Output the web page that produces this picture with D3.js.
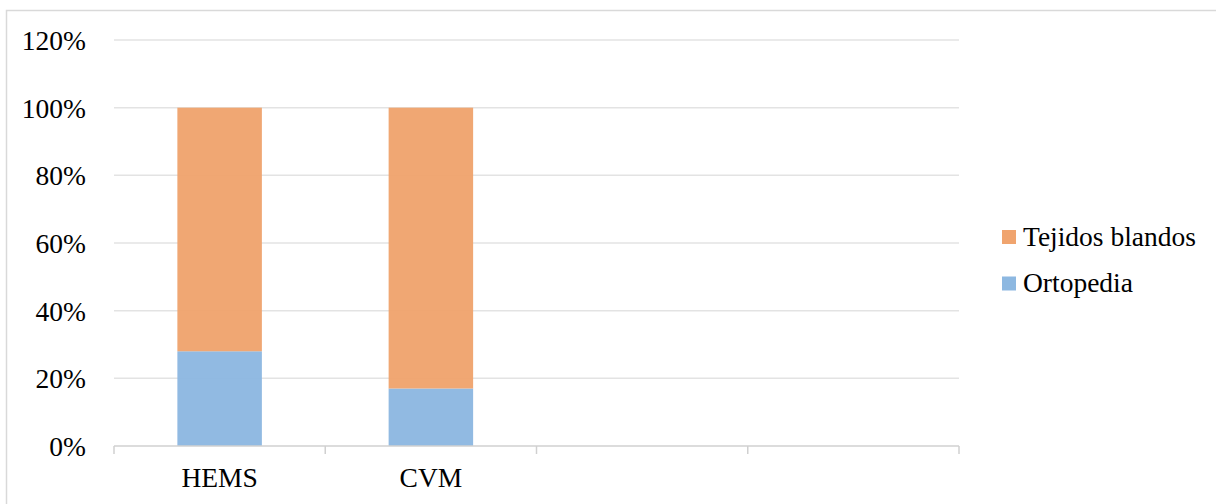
<!DOCTYPE html>
<html>
<head>
<meta charset="utf-8">
<script src="https://cdn.jsdelivr.net/npm/d3@7"></script>
<style>
  html, body { margin: 0; padding: 0; background: #fff; }
  svg { display: block; }
</style>
</head>
<body>
<div id="chart"></div>
<script>
// Categories along the x axis (the last two slots are left empty)
const categories = ["HEMS", "CVM", "", " "];
// Share of each service per category (%)
const ortopedia = [28, 17, null, null];
const tejidosBlandos = [72, 83, null, null];
const seriesNames = ["Ortopedia", "Tejidos blandos"];
const seriesColors = ["#8db8e1", "#f0a46e"];
const yTicks = [0, 20, 40, 60, 80, 100, 120];

const W = 1216, H = 504;
const plot = { left: 114, right: 959, top: 40, bottom: 446 };
const FONT = "'Liberation Serif', 'Times New Roman', serif";
const FONT_SIZE = "27.5px";

const svg = d3.select("#chart").append("svg")
  .attr("width", W).attr("height", H);

// chart frame
svg.append("rect")
  .attr("x", 6.5).attr("y", 10.5)
  .attr("width", 1215).attr("height", 500)
  .attr("fill", "none").attr("stroke", "#d9d9d9").attr("stroke-width", 1.5);

const x = d3.scaleBand()
  .domain(categories)
  .range([plot.left, plot.right])
  .paddingInner(0.6).paddingOuter(0.3);

const y = d3.scaleLinear().domain([0, 120]).range([plot.bottom, plot.top]);

// horizontal gridlines
svg.append("g")
  .selectAll("line")
  .data(yTicks.filter(d => d > 0))
  .join("line")
  .attr("x1", plot.left).attr("x2", plot.right)
  .attr("y1", d => y(d)).attr("y2", d => y(d))
  .attr("stroke", "#e3e3e3").attr("stroke-width", 1.5);

// y axis labels
const yAxis = d3.axisLeft(y).tickValues(yTicks).tickFormat(d => d + "%").tickSize(0).tickPadding(28);
const gy = svg.append("g").attr("transform", `translate(${plot.left},0)`).call(yAxis);
gy.attr("font-family", null);
gy.select(".domain").remove();
gy.selectAll("text")
  .style("font-family", FONT).style("font-size", FONT_SIZE).style("fill", "#000")
  .attr("dy", "0.34em");

// stacked bars
const rows = categories.map((c, i) => ({ cat: c, Ortopedia: ortopedia[i] || 0, "Tejidos blandos": tejidosBlandos[i] || 0 }));
const stack = d3.stack().keys(seriesNames)(rows);

svg.append("g")
  .selectAll("g")
  .data(stack)
  .join("g")
  .attr("fill", (d, i) => seriesColors[i])
  .attr("fill-opacity", 0.97)
  .selectAll("rect")
  .data(d => d.filter(p => p[1] > p[0]))
  .join("rect")
  .attr("x", d => x(d.data.cat))
  .attr("width", x.bandwidth())
  .attr("y", d => y(d[1]))
  .attr("height", d => y(d[0]) - y(d[1]));

// x axis with ticks at the category boundaries
const slot = (plot.right - plot.left) / categories.length;
const boundaries = d3.range(categories.length + 1).map(i => plot.left + i * slot);
const gx = svg.append("g");
gx.append("line")
  .attr("x1", plot.left).attr("x2", plot.right)
  .attr("y1", plot.bottom).attr("y2", plot.bottom)
  .attr("stroke", "#d0d0d0").attr("stroke-width", 1.5);
gx.selectAll("line.tick")
  .data(boundaries)
  .join("line")
  .attr("class", "tick")
  .attr("x1", d => d).attr("x2", d => d)
  .attr("y1", plot.bottom).attr("y2", plot.bottom + 8)
  .attr("stroke", "#d0d0d0").attr("stroke-width", 1.5);
gx.selectAll("text")
  .data(categories.filter(c => c.trim() !== ""))
  .join("text")
  .attr("x", d => x(d) + x.bandwidth() / 2)
  .attr("y", 487)
  .attr("text-anchor", "middle")
  .style("font-family", FONT).style("font-size", FONT_SIZE).style("fill", "#000")
  .text(d => d);

// legend (series listed top to bottom in reverse stacking order)
const legendItems = seriesNames.map((n, i) => ({ name: n, color: seriesColors[i] })).reverse();
const lg = svg.append("g").attr("transform", "translate(1002,230)");
const li = lg.selectAll("g").data(legendItems).join("g")
  .attr("transform", (d, i) => `translate(0,${i * 46.5})`);
li.append("rect").attr("width", 14).attr("height", 14).attr("fill", d => d.color);
li.append("text").attr("x", 21).attr("y", 15.5)
  .style("font-family", FONT).style("font-size", FONT_SIZE).style("fill", "#000")
  .text(d => d.name);
</script>
</body>
</html>
